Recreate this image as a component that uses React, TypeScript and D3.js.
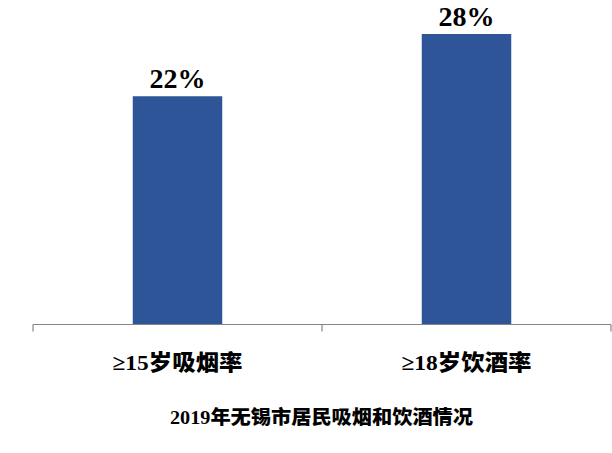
import React from "react";
import * as d3 from "d3";

const categories = ["≥15岁吸烟率", "≥18岁饮酒率"];
const values = [22, 28];
const valueLabels = ["22%", "28%"];
const title = "2019年无锡市居民吸烟和饮酒情况";

const W = 612;
const H = 453;

export default function App() {
  const x = d3.scaleBand<string>().domain(categories).range([33, 611]).paddingInner(0).paddingOuter(0);
  const y = d3.scaleLinear().domain([0, 30]).range([324.5, 13.25]);
  const bw = 89.5;
  const font = "'Times New Roman', 'Liberation Serif', 'Noto Sans CJK SC', serif";
  const ticks = [33, ...categories.map((c) => (x(c) as number) + x.bandwidth())];
  return (
    <div style={{ position: "fixed", left: 0, top: 0, width: W, height: H, background: "#fff" }}>
      <svg width={W} height={H} viewBox={`0 0 ${W} ${H}`}>
        {categories.map((c, i) => {
          const cx = (x(c) as number) + x.bandwidth() / 2;
          return (
            <g key={c}>
              <rect x={cx - bw / 2} y={y(values[i])} width={bw} height={y(0) - y(values[i])} fill="#2D5597" />
              <text x={cx} y={y(values[i]) - 8} textAnchor="middle" fontFamily={font} fontWeight="bold" fontSize={28} fill="#000">
                {valueLabels[i]}
              </text>
              <text x={cx} y={370} textAnchor="middle" fontFamily={font} fontWeight={900} fontSize={22} fill="#000"
                textLength={130} lengthAdjust="spacingAndGlyphs">
                {c}
              </text>
            </g>
          );
        })}
        <line x1={33} x2={611} y1={324.5} y2={324.5} stroke="#868686" strokeWidth={1.2} />
        {ticks.map((t, i) => (
          <line key={i} x1={t} x2={t} y1={324.5} y2={331.5} stroke="#868686" strokeWidth={1.2} />
        ))}
        <text x={321.5} y={424} textAnchor="middle" fontFamily={font} fontWeight={900} fontSize={19} fill="#000"
          textLength={303} lengthAdjust="spacingAndGlyphs">
          {title}
        </text>
      </svg>
    </div>
  );
}
